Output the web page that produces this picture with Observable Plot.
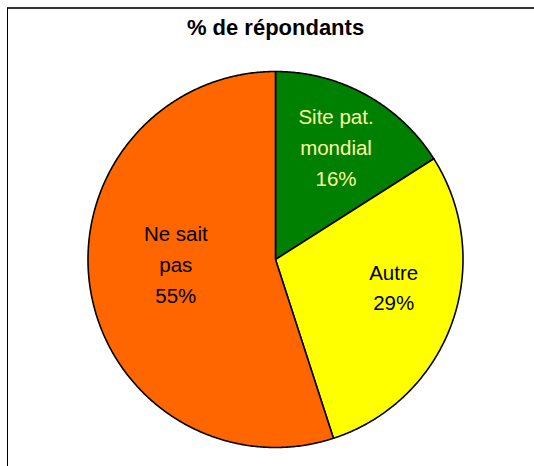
<!DOCTYPE html>
<html>
<head>
<meta charset="utf-8">
<script src="https://cdn.jsdelivr.net/npm/d3@7"></script>
<script src="https://cdn.jsdelivr.net/npm/@observablehq/plot@0.6"></script>
<style>
  html, body { margin: 0; padding: 0; background: #fff; }
  #wrap { position: relative; width: 534px; height: 466px; overflow: hidden; }
  #frame { position: absolute; left: 7px; top: 7px; width: 600px; height: 600px;
           border-top: 2px solid #333; border-left: 1px solid #000; }
  #chart { position: absolute; left: 0; top: 0; }
</style>
</head>
<body>
<div id="wrap"><div id="frame"></div><div id="chart"></div></div>
<script>
const title = "% de répondants";
const categories = ["Site pat. mondial", "Autre", "Ne sait pas"];
const labelLines = ["Site pat.\nmondial", "Autre", "Ne sait\npas"];
const values = [16, 29, 55];
const colors = ["#008000", "#FFFF00", "#FF6600"];
const labelColors = ["#FFFF99", "#000000", "#000000"];

// build slice outlines (clockwise from 12 o'clock)
const total = d3.sum(values);
const pie = d3.pie().sort(null).value(d => d)(values);
const poly = [];
const labels = [];
const labelShift = [[0.00, 0.022], [0.00, 0.09], [0.13, 0.09]]; // style nudges
pie.forEach((p, i) => {
  const a0 = p.startAngle, a1 = p.endAngle;
  poly.push({cat: categories[i], x: 0, y: 0});
  const n = Math.max(2, Math.ceil((a1 - a0) / (Math.PI / 360)));
  for (let k = 0; k <= n; k++) {
    const a = a0 + (a1 - a0) * k / n;
    poly.push({cat: categories[i], x: Math.sin(a), y: Math.cos(a)});
  }
  const am = (a0 + a1) / 2, r = 0.67;
  labels.push({
    cat: categories[i],
    text: labelLines[i] + "\n" + Math.round(values[i] / total * 100) + "%",
    x: Math.sin(am) * r + labelShift[i][0],
    y: Math.cos(am) * r + labelShift[i][1],
    color: labelColors[i]
  });
});

const plot = Plot.plot({
  width: 534,
  height: 466,
  marginLeft: 87.5,
  marginRight: 71.5,
  marginTop: 71,
  marginBottom: 19,
  x: {domain: [-1, 1], axis: null},
  y: {domain: [-1, 1], axis: null},
  color: {domain: categories, range: colors},
  style: {fontFamily: "Arial, 'Liberation Sans', sans-serif", background: "transparent", overflow: "visible"},
  marks: [
    Plot.line(poly, {x: "x", y: "y", z: "cat", fill: "cat", stroke: "#000", strokeWidth: 1.6, curve: "linear-closed", strokeLinejoin: "round"}),
    Plot.text(labels, {x: "x", y: "y", text: "text", fill: d => d.color, fontSize: 20.5, lineHeight: 1.5, lineAnchor: "middle"}),
    Plot.text([title], {frameAnchor: "top", dy: -44, text: d => d, fontSize: 22, fontWeight: "bold", fill: "#000", letterSpacing: "0.7px", lineAnchor: "middle"})
  ]
});
document.getElementById("chart").appendChild(plot);
</script>
</body>
</html>
